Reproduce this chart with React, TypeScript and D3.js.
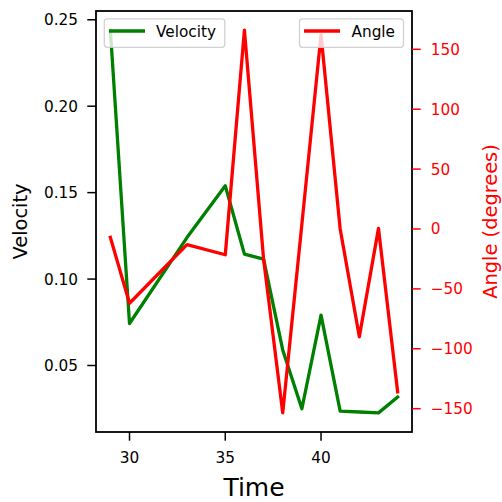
import React from "react";
import * as d3 from "d3";

const times = [29, 30, 33, 35, 36, 37, 38, 39, 40, 41, 42, 43, 44];
const velocity = [0.244, 0.0743, 0.124, 0.154, 0.1144, 0.1115, 0.059, 0.025, 0.0791, 0.0236, 0.0231, 0.0226, 0.0318];
const angle = [-7, -62, -13, -21.5, 166, -25, -153.5, 4, 162, 0, -90, 0.5, -136];
const xTicks = [30, 35, 40];
const vTicks = [0.05, 0.1, 0.15, 0.2, 0.25];
const aTicks = [-150, -100, -50, 0, 50, 100, 150];

const W = 502, H = 502;
const L = 96, R = 412, T = 11, B = 432;
const FONT = "DejaVu Sans, sans-serif";

function padded(vals: number[]): [number, number] {
  const [mn, mx] = d3.extent(vals) as [number, number];
  const p = (mx - mn) * 0.05;
  return [mn - p, mx + p];
}

const fmtMinus = (s: string) => s.replace("-", "\u2212");

export default function App() {
  const x = d3.scaleLinear().domain(padded(times)).range([L, R]);
  const yV = d3.scaleLinear().domain(padded(velocity)).range([B, T]);
  const yA = d3.scaleLinear().domain(padded(angle)).range([B, T]);

  const lineV = d3.line<number>().x((_, i) => x(times[i])).y((d) => yV(d));
  const lineA = d3.line<number>().x((_, i) => x(times[i])).y((d) => yA(d));

  const tickFs = 15.3;
  const legFs = 15.3;
  const lw = 3.3;

  return (
    <svg width={W} height={H} style={{ position: "absolute", left: 0, top: 0, background: "#fff" }} fontFamily={FONT}>
      <rect x={0} y={0} width={W} height={H} fill="#fff" />
      <defs>
        <clipPath id="plot">
          <rect x={L} y={T} width={R - L} height={B - T} />
        </clipPath>
      </defs>

      {/* velocity line */}
      <path d={lineV(velocity) || ""} fill="none" stroke="green" strokeWidth={lw} strokeLinejoin="round" strokeLinecap="square" clipPath="url(#plot)" />

      {/* velocity legend */}
      <g>
        <rect x={104.3} y={18.8} width={120.5} height={28.5} rx={3} fill="#fff" fillOpacity={0.8} stroke="#ccc" strokeOpacity={0.9} strokeWidth={1.3} />
        <line x1={109} x2={145} y1={31} y2={31} stroke="green" strokeWidth={lw} />
        <text x={156} y={31} dy="0.36em" fontSize={legFs} fill="#000">Velocity</text>
      </g>

      {/* angle line */}
      <path d={lineA(angle) || ""} fill="none" stroke="red" strokeWidth={lw} strokeLinejoin="round" strokeLinecap="square" clipPath="url(#plot)" />

      {/* angle legend */}
      <g>
        <rect x={299.5} y={18.8} width={104} height={28.5} rx={3} fill="#fff" fillOpacity={0.8} stroke="#ccc" strokeOpacity={0.9} strokeWidth={1.3} />
        <line x1={304} x2={340} y1={31} y2={31} stroke="red" strokeWidth={lw} />
        <text x={351.5} y={31} dy="0.36em" fontSize={legFs} fill="#000">Angle</text>
      </g>

      {/* frame */}
      <rect x={L} y={T} width={R - L} height={B - T} fill="none" stroke="#000" strokeWidth={1.8} />

      {/* x axis */}
      {xTicks.map((t) => (
        <g key={"x" + t}>
          <line x1={x(t)} x2={x(t)} y1={B} y2={B + 8.7} stroke="#000" strokeWidth={1.5} />
          <text x={x(t)} y={463.3} textAnchor="middle" fontSize={tickFs} fill="#000">{t}</text>
        </g>
      ))}
      <text x={(L + R) / 2} y={496} textAnchor="middle" fontSize={25} fill="#000">Time</text>

      {/* left axis */}
      {vTicks.map((v) => (
        <g key={"v" + v}>
          <line x1={L - 8.7} x2={L} y1={yV(v)} y2={yV(v)} stroke="#000" strokeWidth={1.5} />
          <text x={78} y={yV(v)} dy="0.36em" textAnchor="end" fontSize={tickFs} fill="#000">{d3.format(".2f")(v)}</text>
        </g>
      ))}
      <text transform={`translate(27,${(T + B) / 2}) rotate(-90)`} textAnchor="middle" fontSize={19.4} fill="#000">Velocity</text>

      {/* right axis */}
      {aTicks.map((a) => (
        <g key={"a" + a}>
          <line x1={R} x2={R + 8.7} y1={yA(a)} y2={yA(a)} stroke="red" strokeWidth={1.5} />
          <text x={430.7} y={yA(a)} dy="0.36em" textAnchor="start" fontSize={tickFs} fill="red">{fmtMinus(String(a))}</text>
        </g>
      ))}
      <text transform={`translate(497,${(T + B) / 2}) rotate(-90)`} textAnchor="middle" fontSize={19.4} fill="red">Angle (degrees)</text>
    </svg>
  );
}
